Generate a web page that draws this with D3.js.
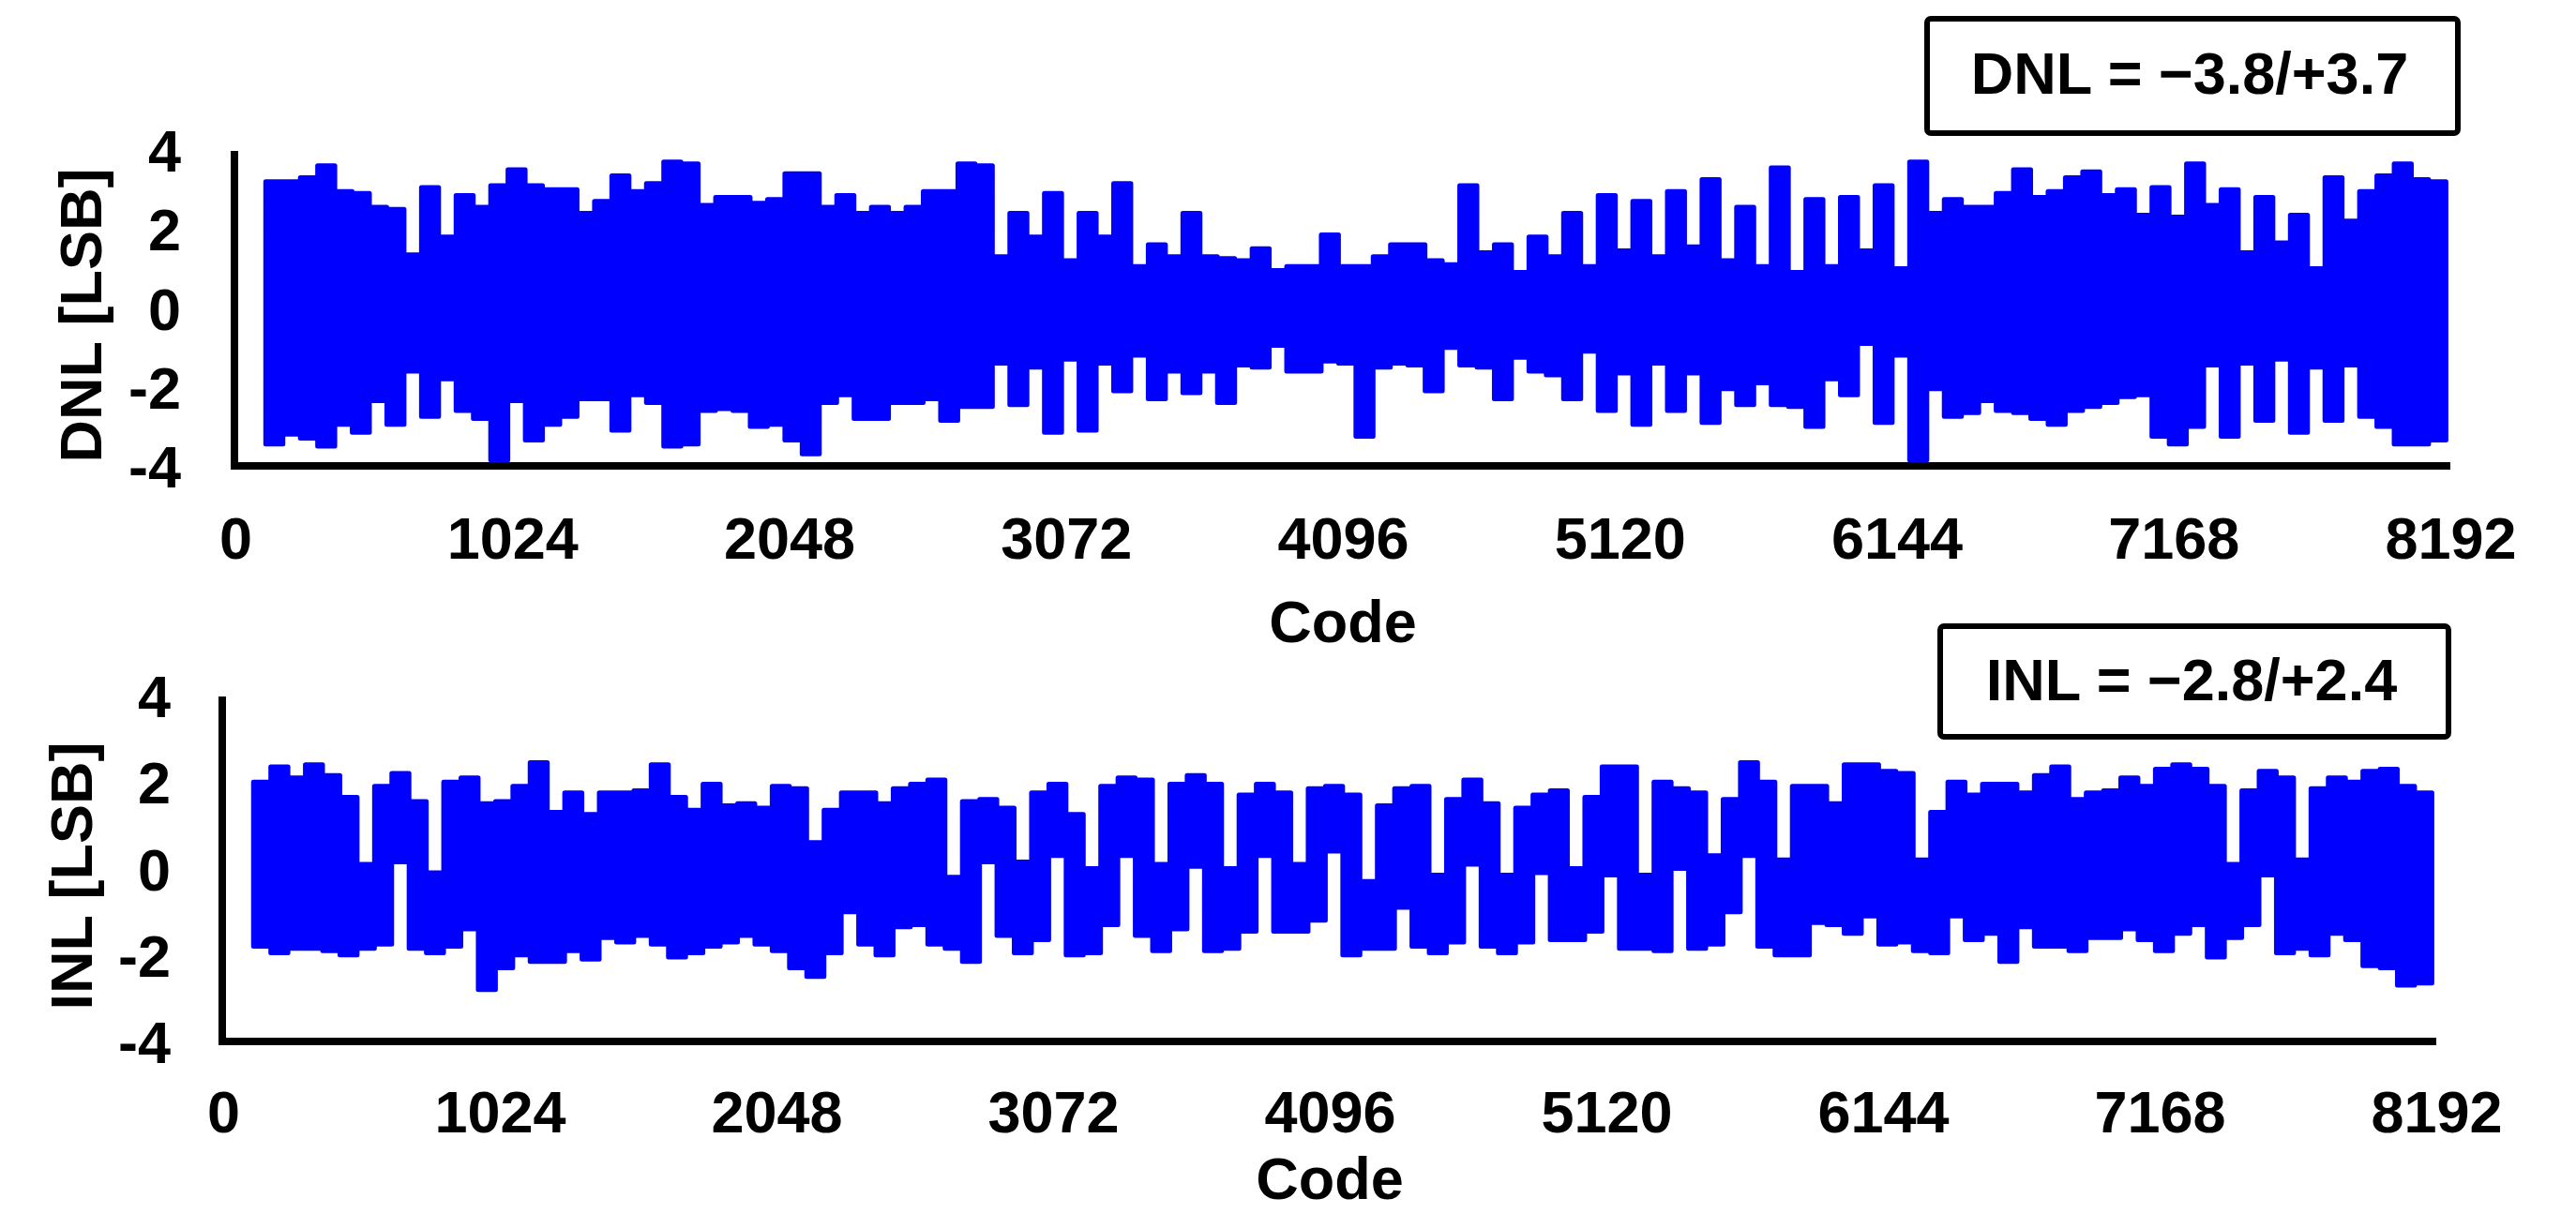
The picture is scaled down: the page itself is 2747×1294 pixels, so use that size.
<!DOCTYPE html>
<html>
<head>
<meta charset="utf-8">
<script src="https://cdn.jsdelivr.net/npm/d3@7"></script>
<style>
	body { margin: 0; background: #fff; }
	svg { display: block; }
	text { font-family: "Liberation Sans", Arial, sans-serif; font-weight: bold; fill: #000; }
</style>
</head>
<body>
<div id="chart"></div>
<script>

// x ticks (codes) and y ticks (LSB)
var codeTicks = [0, 1024, 2048, 3072, 4096, 5120, 6144, 7168, 8192]
var lsbTicks = [4, 2, 0, -2, -4]

// codes are grouped in 64-code bins starting at code 112 (126 bins)
var binStart = 112
var binWidth = 64

// DNL: max / min within each bin
var dnlHigh = [3.2,3.2,3.3,3.6,2.95,2.9,2.55,2.5,1.35,3.05,
	1.8,2.85,2.55,3.1,3.5,3.1,3.0,3.0,2.4,2.7,
	3.35,2.95,3.15,3.7,3.65,2.6,2.8,2.8,2.65,2.75,
	3.4,3.4,2.55,2.85,2.4,2.55,2.4,2.55,2.95,2.95,
	3.65,3.6,1.3,2.4,1.8,2.9,1.2,2.4,1.8,3.15,
	1.05,1.6,1.3,2.4,1.3,1.25,1.2,1.5,0.95,1.05,
	1.05,1.85,
	1.05,1.05,1.3,1.6,1.6,1.2,1.1,3.1,1.4,1.6,
	0.9,1.8,1.3,2.4,1.05,2.85,1.45,2.7,1.3,2.95,
	1.55,3.25,1.2,2.55,1.05,3.55,0.9,2.75,1.05,2.8,
	1.45,3.1,1.0,3.7,2.4,2.75,2.55,2.55,2.9,3.5,
	2.8,2.95,3.3,3.45,2.85,3.0,2.35,3.05,2.3,3.65,
	2.6,3.0,1.4,2.8,1.65,2.35,1.0,3.3,2.2,2.95,
	3.35,3.65,3.25,3.2]

var dnlLow = [-3.45,-3.2,-3.3,-3.5,-2.95,-3.15,-2.35,-2.95,-1.6,-2.75,
	-1.8,-2.6,-2.8,-3.85,-2.35,-3.35,-2.95,-2.75,-2.3,-2.3,
	-3.1,-2.2,-2.4,-3.5,-3.45,-2.6,-2.55,-2.6,-3.0,-2.95,
	-3.35,-3.7,-2.4,-2.2,-2.8,-2.8,-2.4,-2.4,-2.3,-2.85,
	-2.5,-2.5,-1.4,-2.45,-1.5,-3.15,-1.3,-3.1,-1.4,-2.1,
	-1.2,-2.3,-1.6,-2.15,-1.6,-2.4,-1.45,-1.5,-0.95,-1.6,
	-1.6,-1.35,
	-1.4,-3.25,-1.5,-1.4,-1.45,-2.1,-1.0,-1.45,-1.5,-2.3,
	-1.25,-1.6,-1.7,-2.3,-1.1,-2.6,-1.65,-2.95,-1.4,-2.6,
	-1.65,-2.9,-2.05,-2.45,-1.9,-2.45,-2.5,-3.0,-1.8,-2.2,
	-0.9,-2.9,-1.2,-3.85,-2.05,-2.75,-2.65,-2.35,-2.6,-2.65,
	-2.8,-2.95,-2.6,-2.5,-2.4,-2.25,-2.2,-3.25,-3.45,-3.0,
	-1.45,-3.25,-1.4,-2.85,-1.3,-3.15,-1.5,-2.85,-1.45,-2.75,
	-3.0,-3.45,-3.45,-3.35]

// INL: max / min within each bin
var inlHigh = [2.0,2.35,2.1,2.4,2.15,1.65,0.1,1.9,2.2,1.55,
	-0.1,2.0,2.1,1.5,1.55,1.9,2.45,1.3,1.75,1.25,
	1.75,1.75,1.8,2.4,1.65,1.35,1.95,1.45,1.5,1.4,
	1.9,1.85,0.6,1.35,1.75,1.75,1.5,1.85,1.95,2.05,
	-0.2,1.55,1.6,1.4,0.15,1.75,1.95,1.25,0.0,1.9,
	2.1,2.05,0.1,1.95,2.15,1.95,0.0,1.7,1.95,1.75,
	0.1,1.85,
	1.9,1.7,-0.3,1.45,1.85,1.9,-0.15,1.6,2.05,1.5,
	-0.15,1.4,1.7,1.8,0.0,1.65,2.35,2.35,-0.15,2.0,
	1.85,1.75,0.3,1.6,2.45,2.0,0.2,1.9,1.9,1.5,
	2.4,2.4,2.25,2.2,0.2,1.3,2.0,1.7,1.95,1.95,
	1.75,2.15,2.35,1.6,1.75,1.8,2.1,1.9,2.3,2.4,
	2.3,1.9,0.1,1.8,2.25,2.1,0.2,1.85,2.1,2.0,
	2.25,2.3,1.9,1.75]

var inlLow = [-1.8,-1.95,-1.85,-1.85,-1.9,-2.0,-1.85,-1.75,0.15,-1.85,
	-1.95,-1.8,-1.4,-2.8,-2.3,-2.0,-2.15,-2.15,-1.9,-2.1,
	-1.6,-1.7,-1.55,-1.75,-2.05,-1.95,-1.8,-1.7,-1.55,-1.75,
	-1.9,-2.3,-2.5,-1.95,-1.0,-1.75,-2.0,-1.35,-1.3,-1.75,
	-1.85,-2.15,0.15,-1.55,-1.95,-1.65,0.3,-2.0,-1.95,-1.3,
	0.3,-1.55,-1.9,-1.4,0.05,-1.9,-1.85,-1.45,0.3,-1.45,
	-1.45,-1.2,
	0.4,-2.0,-1.85,-1.85,-0.9,-1.8,-1.95,-1.7,0.1,-1.8,
	-1.95,-1.7,-0.1,-1.65,-1.65,-1.45,-0.15,-1.85,-1.85,-1.9,
	0.0,-1.85,-1.75,-1.0,0.3,-1.8,-2.0,-2.0,-1.25,-1.3,
	-1.5,-1.1,-1.75,-1.7,-1.9,-1.95,-1.1,-1.65,-1.5,-2.15,
	-1.35,-1.8,-1.8,-1.9,-1.6,-1.6,-1.4,-1.65,-1.9,-1.5,
	-1.3,-2.05,-1.6,-1.3,-0.15,-1.95,-1.85,-2.0,-1.5,-1.65,
	-2.25,-2.3,-2.7,-2.65]

var width = 2747
var height = 1294
var blue = "#0000ff"
var fontSize = 63

var svg = d3.select("#chart").append("svg")
	.attr("width", width)
	.attr("height", height)

function drawPanel(p) {

	var x = d3.scaleLinear()
		.domain([0, 8192])
		.range([p.left, p.right])

	var y = d3.scaleLinear()
		.domain([-4, 4])
		.range([p.bottom, p.top])

	// one flat step per bin, from its first to its last code
	var steps = []
	p.high.forEach(function(h, i) {
		var c = binStart + i * binWidth
		steps.push({code: c, hi: h, lo: p.low[i]})
		steps.push({code: c + binWidth, hi: h, lo: p.low[i]})
	})

	var band = d3.area()
		.x(function(d) { return x(d.code) })
		.y0(function(d) { return y(d.lo) })
		.y1(function(d) { return y(d.hi) })

	svg.append("path")
		.datum(steps)
		.attr("fill", blue)
		.attr("stroke", blue)
		.attr("stroke-width", 5)
		.attr("stroke-linejoin", "round")
		.attr("d", band)

	var yAxis = d3.axisLeft(y)
		.tickValues(lsbTicks)
		.tickSize(0)
		.tickPadding(p.yPad)
		.tickFormat(function(d) { return String(d) })

	var gy = svg.append("g")
		.attr("transform", "translate(" + p.left + ",0)")
		.call(yAxis)
	gy.select(".domain").remove()
	gy.selectAll("text")
		.attr("font-size", fontSize)
		.attr("font-family", null)
		.attr("dy", "0.36em")

	var xAxis = d3.axisBottom(x)
		.tickValues(codeTicks)
		.tickSize(0)
		.tickPadding(p.xPad)
		.tickFormat(function(d) { return String(d) })

	var gx = svg.append("g")
		.attr("transform", "translate(0," + p.bottom + ")")
		.call(xAxis)
	gx.select(".domain").remove()
	gx.selectAll("text")
		.attr("font-size", fontSize)
		.attr("font-family", null)

	// L-shaped axis frame
	svg.append("path")
		.attr("d", "M" + (p.left - 1) + "," + (p.top + 1) + "V" + p.bottom + "H" + x(8192))
		.attr("fill", "none")
		.attr("stroke", "#000")
		.attr("stroke-width", 8)
		.attr("stroke-linejoin", "miter")

	svg.append("text")
		.attr("transform", "translate(" + p.labelX + "," + ((p.top + p.bottom) / 2 + 8) + ") rotate(-90)")
		.attr("text-anchor", "middle")
		.attr("font-size", fontSize)
		.text(p.name + " [LSB]")

	svg.append("text")
		.attr("x", (p.left + p.right) / 2)
		.attr("y", p.codeY)
		.attr("text-anchor", "middle")
		.attr("font-size", fontSize)
		.text("Code")

	svg.append("rect")
		.attr("x", p.box[0])
		.attr("y", p.box[1])
		.attr("width", p.box[2])
		.attr("height", p.box[3])
		.attr("rx", 4)
		.attr("fill", "#fff")
		.attr("stroke", "#000")
		.attr("stroke-width", 6)

	svg.append("text")
		.attr("x", p.box[0] + p.box[2] / 2 - 3)
		.attr("y", p.boxTextY)
		.attr("text-anchor", "middle")
		.attr("font-size", fontSize)
		.text(p.summary)
}

drawPanel({
	name: "DNL", high: dnlHigh, low: dnlLow,
	left: 251, right: 2613, top: 160, bottom: 497,
	yPad: 58, xPad: 54, labelX: 108, codeY: 685,
	box: [2055, 20, 566, 122], boxTextY: 100,
	summary: "DNL = \u22123.8/+3.7"
})

drawPanel({
	name: "INL", high: inlHigh, low: inlLow,
	left: 238, right: 2598, top: 742, bottom: 1111,
	yPad: 56, xPad: 52, labelX: 98, codeY: 1279,
	box: [2069, 668, 542, 118], boxTextY: 747,
	summary: "INL = \u22122.8/+2.4"
})

</script>
</body>
</html>
